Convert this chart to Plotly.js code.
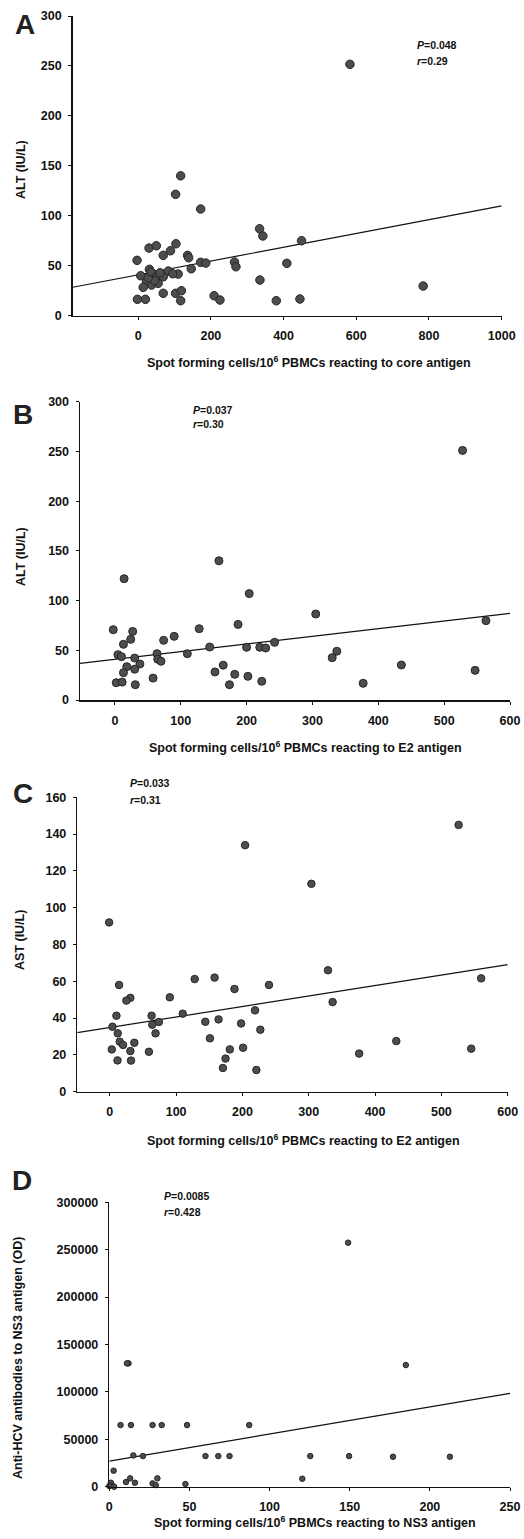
<!DOCTYPE html>
<html><head><meta charset="utf-8">
<script src="https://cdn.plot.ly/plotly-3.0.1.min.js"></script>
<style>html,body{margin:0;padding:0;background:#fff;}#chart{width:524px;height:1539px;}</style>
</head><body><div id="chart"></div>
<script>
// Panel A: core antigen vs ALT
const coreSFC = [582.6,117,103,172,334,343,449.5,-3,30,50,104,89,69,136,139,172,186,146,265,269,409,7,31,41,83,110,50,69,23,37,14,55,335,784,69,103,119,-2,20,117,209,225,380,445,45,60,95,28,35];
const coreALT = [251.6,140,121.5,106.8,87,79.8,75,55.4,67.7,70,72,65,60.4,60.4,58,53.4,52.7,47,53.7,49,52.4,40,46.4,41.7,44.7,41.7,37.4,39,34,30.7,28.4,32.4,35.7,29.7,22.4,22.4,25,16.4,16.4,15,20,15.7,15,16.7,35,43,42,38,44];
const fitA = {intercept: 40.9, slope: 0.069};
// Panel B: E2 antigen vs ALT
const e2SFC_B = [528,158,14,204,305,563.5,187,128,-2.5,27,24,13,90,74,144,200,220,229,242.5,4.6,10,30,64,65,70,110,337,330,18,38,30,13,164.5,435,152,547,58,182,202,2,11,31,174,223,377];
const e2ALT_B = [251,140,122,107,86.5,79.8,76,71.7,70.7,69,61,56,64,60,53.3,53,53,52.3,58,45.6,43.6,42.2,46.6,41,39,46.6,49,42.6,33.5,36.2,31,27.5,35,35.2,28.2,29.8,22,25.8,23.8,17.4,18,15.4,15.4,18.8,16.8];
const fitB = {intercept: 41, slope: 0.077};
// Panel C: E2 antigen vs AST
const e2SFC_C = [526,204,304,-1,329,560,14,128,158,240,188,90.5,31,25,336,10,63,110,219,64,74,144,164,198,4,12,69,227,151,15,20,37,432,3,31,59,181,201,545,376,11.6,32,174.5,170.5,221];
const e2AST_C = [145,134,113,92,66,61.6,58,61.2,62,58,55.8,51.3,51,49.5,48.7,41.3,41.3,42.4,44.2,36.4,37.9,38,39.3,37.1,35.3,31.7,31.7,33.7,29,27.2,25.4,26.6,27.5,23,22.1,21.7,23,23.9,23.4,20.7,17,16.9,18,12.9,11.8];
const fitC = {intercept: 34.9, slope: 0.057};
// Panel D: NS3 antigen vs anti-HCV antibodies
const ns3SFC = [149,12,185,7,13.5,27,32.7,48.5,87.3,15,21,60,68,75,125.4,149.6,177,212.5,2.7,120.4,13,30,10.4,16,27,1,1.7,47.5,29,0,3,11];
const ns3OD = [257400,130100,128300,65000,65000,65000,65000,65000,65000,33000,32300,32300,32300,32300,32300,32300,31600,31600,16900,8400,8800,8800,4900,4200,3500,4200,1400,2800,1700,700,0,130100];
const fitD = {intercept: 27000, slope: 285.5};

const W = 524, H = 1539;
const px = v => v / W, py = v => 1 - v / H;

const panels = [
  {x: coreSFC, y: coreALT, fit: fitA, xr: [-180, 1000], yr: [0, 300], xd: [72.7, 501.7], yd: [315.7, 16], dt: 200, yt: 50, ms: 8.5},
  {x: e2SFC_B, y: e2ALT_B, fit: fitB, xr: [-53, 600], yr: [0, 300], xd: [80, 510], yd: [700, 401.7], dt: 100, yt: 50, ms: 8},
  {x: e2SFC_C, y: e2AST_C, fit: fitC, xr: [-49, 600], yr: [0, 160], xd: [77.3, 507.7], yd: [1091.7, 797.3], dt: 100, yt: 20, ms: 7.5},
  {x: ns3SFC, y: ns3OD, fit: fitD, xr: [0, 250], yr: [0, 300000], xd: [109.3, 510], yd: [1486.7, 1202.3], dt: 50, yt: 50000, ms: 5.5}
];

const FAM = 'Liberation Sans, Arial, sans-serif';
const tickFont = {family: FAM, size: 12.5, color: '#111', weight: 'bold'};
const traces = [];
const layout = {
  width: W, height: H, margin: {l: 0, r: 0, t: 0, b: 0},
  paper_bgcolor: '#fff', plot_bgcolor: '#fff', showlegend: false,
  font: {family: FAM, size: 12, color: '#111'}, annotations: []
};

panels.forEach((p, i) => {
  const s = i === 0 ? '' : String(i + 1);
  traces.push({
    type: 'scatter', mode: 'lines', xaxis: 'x' + s, yaxis: 'y' + s,
    x: p.xr, y: p.xr.map(v => p.fit.intercept + p.fit.slope * v),
    line: {color: '#111', width: 1.2}, hoverinfo: 'skip', cliponaxis: false
  });
  traces.push({
    type: 'scatter', mode: 'markers', xaxis: 'x' + s, yaxis: 'y' + s,
    x: p.x, y: p.y, cliponaxis: false,
    marker: {size: p.ms, color: '#4d4d4d', line: {color: '#262626', width: 1}}
  });
  layout['xaxis' + s] = {
    domain: [px(p.xd[0]), px(p.xd[1])], anchor: 'y' + s, range: p.xr,
    tick0: 0, dtick: p.dt, showgrid: false, zeroline: false,
    showline: true, linecolor: '#111', linewidth: 1.5,
    ticks: 'outside', ticklen: 3, tickcolor: '#111', tickwidth: 1,
    ticklabelstandoff: 5, tickfont: tickFont
  };
  layout['yaxis' + s] = {
    domain: [py(p.yd[0]), py(p.yd[1])], anchor: 'x' + s, range: p.yr,
    tick0: 0, dtick: p.yt, showgrid: false, zeroline: false,
    showline: true, linecolor: '#111', linewidth: 1.5,
    ticks: 'outside', ticklen: 3, tickcolor: '#111', tickwidth: 1,
    ticklabelstandoff: 4, tickfont: tickFont,
    tickformat: 'd', exponentformat: 'none', separatethousands: false
  };
});

function ann(text, x, y, opts) {
  layout.annotations.push(Object.assign({
    text: text, xref: 'paper', yref: 'paper', x: px(x), y: py(y),
    showarrow: false, xanchor: 'center', yanchor: 'middle',
    font: {family: FAM, size: 12.5, color: '#111', weight: 'bold'}
  }, opts || {}));
}

const letterFont = {family: FAM, size: 28, color: '#222', weight: 'bold'};
ann('A', 25, 25, {font: letterFont});
ann('B', 23, 414, {font: letterFont});
ann('C', 23, 793, {font: letterFont});
ann('D', 22, 1180, {font: letterFont});

ann('Spot forming cells/10<sup>6</sup> PBMCs reacting to core antigen', 309, 362);
ann('Spot forming cells/10<sup>6</sup> PBMCs reacting to E2 antigen', 305, 747);
ann('Spot forming cells/10<sup>6</sup> PBMCs reacting to E2 antigen', 303, 1140);
ann('Spot forming cells/10<sup>6</sup> PBMCs reacting to NS3 antigen', 315, 1522);

ann('ALT (IU/L)', 21, 170, {textangle: -90});
ann('ALT (IU/L)', 21, 557, {textangle: -90});
ann('AST (IU/L)', 20, 940, {textangle: -90});
ann('Anti-HCV antibodies to NS3 antigen (OD)', 18, 1358, {textangle: -90});

const statFont = {family: FAM, size: 10.5, color: '#111', weight: 'bold'};
ann('<i>P</i>=0.048', 415, 45, {xanchor: 'left', font: statFont});
ann('<i>r</i>=0.29', 415, 61, {xanchor: 'left', font: statFont});
ann('<i>P</i>=0.037', 191, 410, {xanchor: 'left', font: statFont});
ann('<i>r</i>=0.30', 191, 424, {xanchor: 'left', font: statFont});
ann('<i>P</i>=0.033', 128, 783, {xanchor: 'left', font: statFont});
ann('<i>r</i>=0.31', 128, 800, {xanchor: 'left', font: statFont});
ann('<i>P</i>=0.0085', 162, 1196, {xanchor: 'left', font: statFont});
ann('<i>r</i>=0.428', 162, 1212, {xanchor: 'left', font: statFont});

Plotly.newPlot('chart', traces, layout, {staticPlot: true, displayModeBar: false});
</script>
</body></html>
